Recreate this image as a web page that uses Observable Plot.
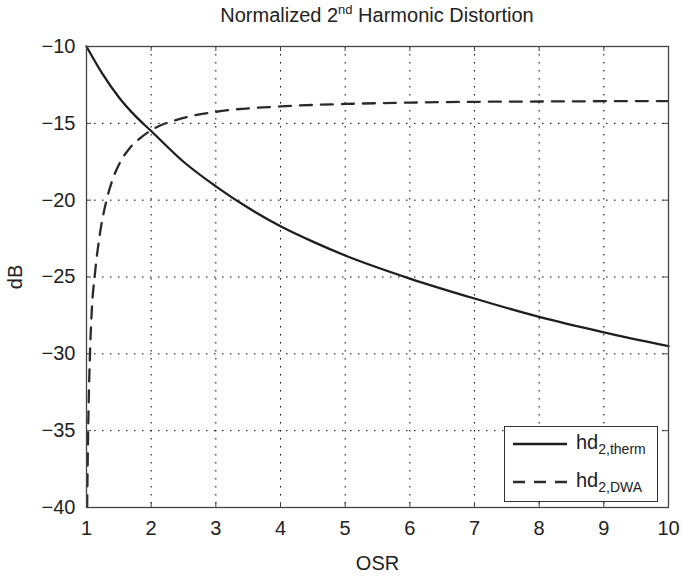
<!DOCTYPE html>
<html>
<head>
<meta charset="utf-8">
<script src="https://cdn.jsdelivr.net/npm/d3@7"></script>
<script src="https://cdn.jsdelivr.net/npm/@observablehq/plot@0.6"></script>
<style>
  html, body { margin: 0; padding: 0; background: #fff; }
  #wrap { position: relative; width: 681px; height: 576px; font-family: "Liberation Sans", Arial, Helvetica, sans-serif; color: #222; }
  #title { position: absolute; left: 86px; width: 582px; top: 5px; text-align: center; font-size: 20px; line-height: 20px; white-space: nowrap; }
  #title sup { font-size: 13px; position: relative; top: -8px; vertical-align: baseline; line-height: 0; }
  #legend { position: absolute; left: 504px; top: 426px; width: 154px; height: 76px; border: 1px solid #333; background: #fff; box-sizing: border-box; }
  .lrow { position: absolute; left: 8px; height: 30px; }
  .lrow svg { position: absolute; left: 0; top: 0; }
  .lrow span.t { position: absolute; left: 63px; top: 3px; font-size: 20px; line-height: 20px; white-space: nowrap; }
  .lrow sub { font-size: 14px; position: relative; top: 5px; vertical-align: baseline; line-height: 0; }
</style>
</head>
<body>
<div id="wrap">
  <div id="chart"></div>
  <div id="title">Normalized 2<sup>nd</sup> Harmonic Distortion</div>
  <div id="legend"></div>
</div>
<script>
// ---- data ----
const xTicks = [1, 2, 3, 4, 5, 6, 7, 8, 9, 10];
const yTicks = [-40, -35, -30, -25, -20, -15, -10];
const xDomain = [1, 10];
const yDomain = [-40, -10];

const seriesNames = ["hd2,therm", "hd2,DWA"];

const osrTherm = [1, 1.25, 1.5, 1.75, 2, 2.5, 3, 3.5, 4, 4.5, 5, 6, 7, 8, 9, 10];
const hdTherm  = [-10, -11.8, -13.3, -14.5, -15.5, -17.5, -19.1, -20.5, -21.7, -22.7, -23.6, -25.1, -26.4, -27.6, -28.6, -29.5];

const osrDwa = [1.01, 1.02, 1.03, 1.05, 1.08, 1.13, 1.2, 1.31, 1.4, 1.5, 1.68, 1.85, 2, 2.5, 3, 4, 5, 6, 7, 8, 9, 10];
const hdDwa  = [-40, -36.5, -34, -30.5, -27.3, -24.8, -22.4, -20, -18.7, -17.7, -16.55, -15.9, -15.45, -14.65, -14.25, -13.9, -13.74, -13.65, -13.6, -13.58, -13.56, -13.55];

// ---- build tables ----
const therm = osrTherm.map((x, i) => ({osr: x, db: hdTherm[i]}));
const dwa = osrDwa.map((x, i) => ({osr: x, db: hdDwa[i]}));

const W = 681, H = 576, mL = 86, mR = 13, mT = 46, mB = 69;
const tickPx = 5;
const tickLenX = tickPx * (xDomain[1] - xDomain[0]) / (W - mL - mR);
const tickLenY = tickPx * (yDomain[1] - yDomain[0]) / (H - mT - mB);

const fmt = d => d < 0 ? "\u2212" + Math.abs(d) : String(d);
const ink = "#1e1e1e";
const axisInk = "#444";
const gridStyle = {stroke: "#000", strokeOpacity: 1, strokeWidth: 1, strokeDasharray: "1.5,6.5"};

const chart = Plot.plot({
  width: W, height: H,
  marginLeft: mL, marginRight: mR, marginTop: mT, marginBottom: mB,
  style: {fontFamily: "'Liberation Sans', Arial, Helvetica, sans-serif", fontSize: "20px", color: "#222", background: "#fff"},
  x: {domain: xDomain, ticks: xTicks},
  y: {domain: yDomain, ticks: yTicks},
  marks: [
    Plot.gridX(xTicks, gridStyle),
    Plot.gridY(yTicks, gridStyle),
    Plot.ruleX(xTicks, {x: d => d, y1: yDomain[0], y2: yDomain[0] + tickLenY, stroke: axisInk}),
    Plot.ruleX(xTicks, {x: d => d, y1: yDomain[1], y2: yDomain[1] - tickLenY, stroke: axisInk}),
    Plot.ruleY(yTicks, {y: d => d, x1: xDomain[0], x2: xDomain[0] + tickLenX, stroke: axisInk}),
    Plot.ruleY(yTicks, {y: d => d, x1: xDomain[1], x2: xDomain[1] - tickLenX, stroke: axisInk}),
    Plot.line(therm, {x: "osr", y: "db", stroke: ink, strokeWidth: 2.3, curve: "monotone-x"}),
    Plot.line(dwa, {x: "osr", y: "db", stroke: "#2a2a2a", strokeWidth: 2.3, strokeDasharray: "12,9", curve: "monotone-x", clip: true}),
    Plot.frame({stroke: axisInk, strokeWidth: 1.3}),
    Plot.axisX(xTicks, {anchor: "bottom", tickSize: 0, tickPadding: 13, tickFormat: fmt, fontSize: 20,
      label: "OSR", labelAnchor: "center", labelOffset: 62, labelArrow: false}),
    Plot.axisY(yTicks, {anchor: "left", tickSize: 0, tickPadding: 11, tickFormat: fmt, fontSize: 20,
      label: "dB", labelAnchor: "center", labelOffset: 79, labelArrow: false})
  ]
});
document.getElementById("chart").appendChild(chart);

// ---- legend ----
const legend = document.getElementById("legend");
const dashes = [null, "12,9"];
const rowTops = [2, 40];
seriesNames.forEach((name, i) => {
  const row = document.createElement("div");
  row.className = "lrow";
  row.style.top = rowTops[i] + "px";
  row.innerHTML =
    `<svg width="56" height="30"><line x1="0" x2="54" y1="15" y2="15" stroke="${i ? "#2a2a2a" : ink}" stroke-width="2.3" ${dashes[i] ? `stroke-dasharray="${dashes[i]}"` : ""}/></svg>` +
    `<span class="t">hd<sub>${name.slice(2)}</sub></span>`;
  legend.appendChild(row);
});
</script>
</body>
</html>
